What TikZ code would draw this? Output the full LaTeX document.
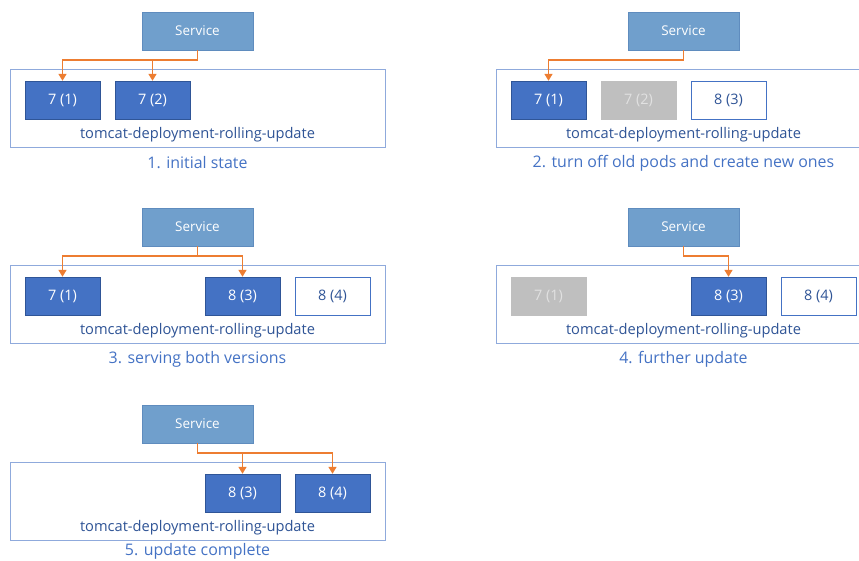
\documentclass[tikz,border=0pt]{standalone}
\usepackage{fontspec}
\setmainfont{Open Sans}
\usetikzlibrary{arrows.meta}
\definecolor{svcfill}{RGB}{112,159,204}
\definecolor{svcdraw}{RGB}{95,140,190}
\definecolor{podblue}{RGB}{68,114,196}
\definecolor{poddraw}{RGB}{47,85,151}
\definecolor{podgray}{RGB}{191,191,191}
\definecolor{graytext}{RGB}{225,225,225}
\definecolor{contdraw}{RGB}{143,170,220}
\definecolor{labtext}{RGB}{47,84,150}
\definecolor{captext}{RGB}{68,114,196}
\definecolor{arrorange}{RGB}{237,125,49}
\tikzset{
  svc/.style={draw=svcdraw, fill=svcfill, minimum width=111bp, minimum height=38bp, inner sep=0pt, text=white, font=\fontsize{13.5}{15}\selectfont},
  cont/.style={draw=contdraw, line width=0.8bp, fill=white, minimum width=375bp, minimum height=78bp, inner sep=0pt},
  podon/.style={draw=poddraw, fill=podblue, minimum width=75bp, minimum height=38bp, inner sep=0pt, text=white, font=\fontsize{14.5}{16}\selectfont},
  podoff/.style={draw=podgray, fill=podgray, minimum width=75bp, minimum height=38bp, inner sep=0pt, text=graytext, font=\fontsize{14.5}{16}\selectfont},
  podnew/.style={draw=podblue, line width=0.8bp, fill=white, minimum width=75bp, minimum height=38bp, inner sep=0pt, text=labtext, font=\fontsize{14.5}{16}\selectfont},
  lab/.style={text=labtext, inner sep=0pt, font=\fontsize{14.7}{16}\selectfont},
  captxt/.style={text=captext, inner sep=0pt, font=\fontsize{16}{18}\selectfont},
  conn/.style={draw=arrorange, line width=1.5bp, -{Triangle[width=8bp,length=7bp]}},
}
\begin{document}
\begin{tikzpicture}[x=1bp,y=-1bp]
\useasboundingbox (0,0) rectangle (859,561);
\clip (0,0) rectangle (859,561);
% ---------- panel 1 ----------
\begin{scope}[shift={(0,0)}]
\node[cont] (c1) at (197.5,108) {};
\node[svc] (s1) at (197.5,31) {Service};
\node[podon] (p1a) at (62.5,100) {7 (1)};
\node[podon] (p1b) at (152.5,100) {7 (2)};
\node[lab] (l1) at (197.5,135) {tomcat-deployment-rolling-update};
\node[captxt] (t1) at (197.5,163) {1. initial state};
\draw[conn] (s1.south) -- ++(0,10) -| (p1a.north);
\draw[conn] (s1.south) -- ++(0,10) -| (p1b.north);
\end{scope}
% ---------- panel 2 ----------
\begin{scope}[shift={(486,0)}]
\node[cont] (c2) at (197.5,108) {};
\node[svc] (s2) at (197.5,31) {Service};
\node[podon] (p2a) at (62.5,100) {7 (1)};
\node[podoff] (p2b) at (152.5,100) {7 (2)};
\node[podnew] (p2c) at (242.5,100) {8 (3)};
\node[lab] (l2) at (197.5,135) {tomcat-deployment-rolling-update};
\node[captxt] (t2) at (197.5,163) {2. turn off old pods and create new ones};
\draw[conn] (s2.south) -- ++(0,10) -| (p2a.north);
\end{scope}
% ---------- panel 3 ----------
\begin{scope}[shift={(0,196)}]
\node[cont] (c3) at (197.5,108) {};
\node[svc] (s3) at (197.5,31) {Service};
\node[podon] (p3a) at (62.5,100) {7 (1)};
\node[podon] (p3c) at (242.5,100) {8 (3)};
\node[podnew] (p3d) at (332.5,100) {8 (4)};
\node[lab] (l3) at (197.5,135) {tomcat-deployment-rolling-update};
\node[captxt] (t3) at (197.5,163) {3. serving both versions};
\draw[conn] (s3.south) -- ++(0,10) -| (p3a.north);
\draw[conn] (s3.south) -- ++(0,10) -| (p3c.north);
\end{scope}
% ---------- panel 4 ----------
\begin{scope}[shift={(486,196)}]
\node[cont] (c4) at (197.5,108) {};
\node[svc] (s4) at (197.5,31) {Service};
\node[podoff] (p4a) at (62.5,100) {7 (1)};
\node[podon] (p4c) at (242.5,100) {8 (3)};
\node[podnew] (p4d) at (332.5,100) {8 (4)};
\node[lab] (l4) at (197.5,135) {tomcat-deployment-rolling-update};
\node[captxt] (t4) at (197.5,163) {4. further update};
\draw[conn] (s4.south) -- ++(0,10) -| (p4c.north);
\end{scope}
% ---------- panel 5 ----------
\begin{scope}[shift={(0,393)}]
\node[cont] (c5) at (197.5,108) {};
\node[svc] (s5) at (197.5,31) {Service};
\node[podon] (p5c) at (242.5,100) {8 (3)};
\node[podon] (p5d) at (332.5,100) {8 (4)};
\node[lab] (l5) at (197.5,135) {tomcat-deployment-rolling-update};
\node[captxt] (t5) at (197.5,158) {5. update complete};
\draw[conn] (s5.south) -- ++(0,10) -| (p5c.north);
\draw[conn] (s5.south) -- ++(0,10) -| (p5d.north);
\end{scope}
\end{tikzpicture}
\end{document}
